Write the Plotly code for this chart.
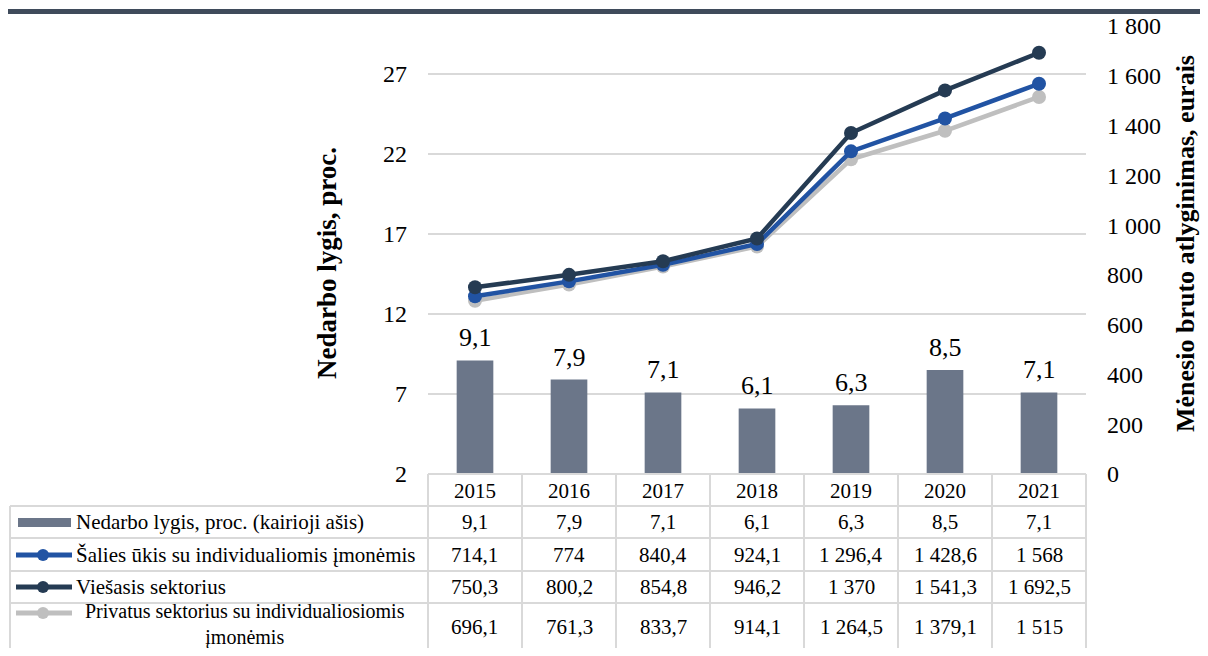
import plotly.graph_objects as go

# the page body adds an 8px margin on every side, so only 1192x640 is visible
OFF = 8
W, H = 1208 - 2 * OFF, 656 - 2 * OFF

years = ['2015', '2016', '2017', '2018', '2019', '2020', '2021']
unemployment = [9.1, 7.9, 7.1, 6.1, 6.3, 8.5, 7.1]
national = [714.1, 774, 840.4, 924.1, 1296.4, 1428.6, 1568]
public = [750.3, 800.2, 854.8, 946.2, 1370, 1541.3, 1692.5]
private = [696.1, 761.3, 833.7, 914.1, 1264.5, 1379.1, 1515]

bar_name = 'Nedarbo lygis, proc. (kairioji ašis)'
national_name = 'Šalies ūkis su individualiomis įmonėmis'
public_name = 'Viešasis sektorius'
private_name = 'Privatus sektorius su individualiosiomis<br>įmonėmis'

left_title = 'Nedarbo lygis, proc.'
right_title = 'Mėnesio bruto atlyginimas, eurais'

BAR_C = '#6b7689'
NAT_C = '#2153a3'
PUB_C = '#253b53'
PRI_C = '#bfbfbf'
GRID_C = '#d9d9d9'
FONT = 'Liberation Serif'
TSIZE = 21


def px(x):
    return (x - OFF) / W


def py(y):
    return 1 - (y - OFF) / H


def fmt(v):
    """Lithuanian number style: space thousands, comma decimals."""
    if float(v).is_integer():
        s = f"{int(v):,}"
    else:
        s = f"{v:,.1f}"
    return s.replace(',', ' ').replace('.', ',')


def note(x, y, text, size=TSIZE, xanchor='center', **kw):
    return dict(x=px(x), y=py(y), xref='paper', yref='paper', text=text,
                xanchor=xanchor, yanchor='middle', showarrow=False,
                font=dict(size=size, color='#000', family=FONT), **kw)


fig = go.Figure()

fig.add_trace(go.Bar(
    x=years, y=unemployment, name=bar_name,
    marker=dict(color=BAR_C, line=dict(width=0)),
    width=0.39, yaxis='y',
))

for vals, name, color in [(private, private_name, PRI_C),
                          (national, national_name, NAT_C),
                          (public, public_name, PUB_C)]:
    fig.add_trace(go.Scatter(
        x=years, y=vals, name=name, yaxis='y2', mode='lines+markers',
        line=dict(color=color, width=4.5),
        marker=dict(color=color, size=14),
    ))

annotations = []

# bar value labels
for i, v in enumerate(unemployment):
    annotations.append(dict(
        x=i, y=v, xref='x', yref='y', text=fmt(v), showarrow=False,
        xanchor='center', yanchor='bottom', yshift=6,
        font=dict(size=26, color='#000', family=FONT),
    ))

# axis titles
annotations.append(note(327, 263, '<b>' + left_title + '</b>', size=27, textangle=-90))
annotations.append(note(1185, 244, '<b>' + right_title + '</b>', size=26, textangle=-90))

# data table
x0_tab, col_w = 428, 94
left_x = 10
rows = [474, 506, 538, 571, 603, 680]
shapes = []
line_style = dict(color=GRID_C, width=2)


def hline(xa, xb, y):
    return dict(type='line', xref='paper', yref='paper', x0=px(xa), x1=px(xb),
                y0=py(y), y1=py(y), line=line_style)


def vline(x, ya, yb):
    return dict(type='line', xref='paper', yref='paper', x0=px(x), x1=px(x),
                y0=py(ya), y1=py(yb), line=line_style)


shapes.append(hline(x0_tab, x0_tab + 7 * col_w, rows[0]))
for r in rows[1:-1]:
    shapes.append(hline(left_x, x0_tab + 7 * col_w, r))
for i in range(8):
    shapes.append(vline(x0_tab + i * col_w, rows[0], rows[-1]))
shapes.append(vline(left_x, rows[1], rows[-1]))

for i, yr in enumerate(years):
    annotations.append(note(x0_tab + (i + 0.5) * col_w, 491, yr))

row_centers = [522, 555, 587, 627]
series_rows = [unemployment, national, public, private]
for rc, vals in zip(row_centers, series_rows):
    for i, v in enumerate(vals):
        annotations.append(note(x0_tab + (i + 0.5) * col_w, rc, fmt(v)))

# legend keys and labels in the table
annotations.append(note(74, 522, bar_name, xanchor='left'))
annotations.append(note(74, 555, national_name, xanchor='left'))
annotations.append(note(74, 587, public_name, xanchor='left'))
annotations.append(note(245, 624, private_name, size=20, align='center'))

shapes.append(dict(type='rect', xref='paper', yref='paper', x0=px(18), x1=px(71),
                   y0=py(527), y1=py(518), fillcolor=BAR_C, line=dict(width=0)))
for ky, color in [(555, NAT_C), (587, PUB_C), (613, PRI_C)]:
    shapes.append(dict(type='line', xref='paper', yref='paper', x0=px(16), x1=px(72),
                       y0=py(ky), y1=py(ky), line=dict(color=color, width=5)))
    shapes.append(dict(type='circle', xref='paper', yref='paper', x0=px(37), x1=px(49),
                       y0=py(ky + 6), y1=py(ky - 6), fillcolor=color, line=dict(width=0)))

# dark band along the top edge
shapes.append(dict(type='rect', xref='paper', yref='paper', x0=0, x1=1,
                   y0=py(14), y1=py(9), fillcolor='#3f4b5b', line=dict(width=0)))

fig.update_layout(
    width=W, height=H,
    margin=dict(l=0, r=0, t=0, b=0),
    paper_bgcolor='white', plot_bgcolor='white',
    showlegend=False,
    separators=', ',
    font=dict(family=FONT, color='#000'),
    xaxis=dict(type='category', domain=[px(428), px(1086)], range=[-0.5, 6.5],
               showticklabels=False, showgrid=False, zeroline=False, showline=False,
               automargin=False),
    yaxis=dict(domain=[py(474), py(26)], range=[2, 30], tickvals=[2, 7, 12, 17, 22, 27],
               showgrid=True, gridcolor=GRID_C, gridwidth=2, zeroline=False,
               ticklabelstandoff=20, tickfont=dict(size=24, family=FONT, color='#000'),
               automargin=False),
    yaxis2=dict(overlaying='y', side='right', range=[0, 1800], dtick=200,
                showgrid=False, zeroline=False, separatethousands=True,
                ticklabelstandoff=20, tickfont=dict(size=24, family=FONT, color='#000'),
                automargin=False),
    annotations=annotations,
    shapes=shapes,
)

fig.write_html("out.html")
